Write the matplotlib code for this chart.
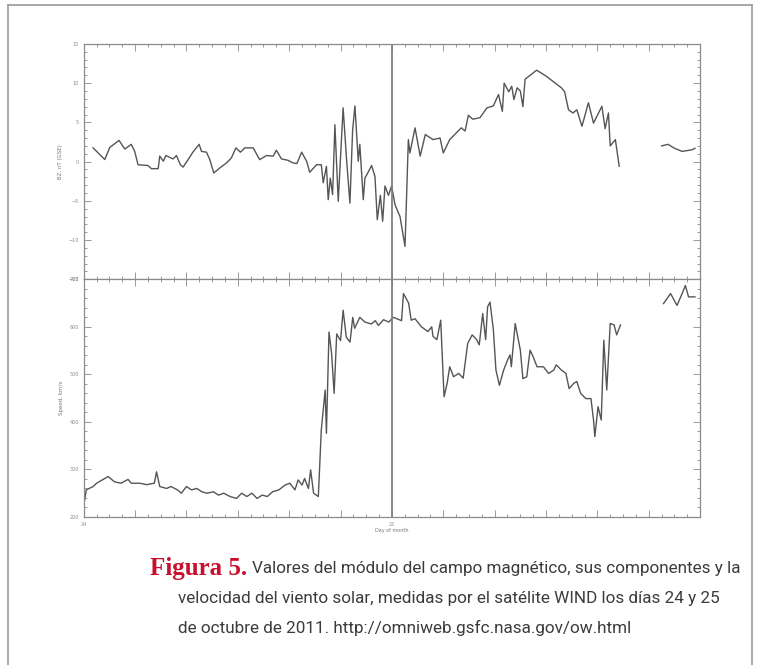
import numpy as np
import matplotlib.pyplot as plt
from matplotlib.lines import Line2D
from matplotlib.ticker import MultipleLocator

# hours after 24 Oct 2011 00:00 UT, Bz in nT (GSE)
bz_hours = [0.73, 1.64, 2.03, 2.75, 3.2, 3.7, 3.97, 4.23, 5.0, 5.27, 5.8, 5.92, 6.2, 6.4,
            6.96, 7.22, 7.53, 7.74, 8.13, 8.5, 8.99, 9.17, 9.56, 9.82, 10.13, 10.6, 11.12,
            11.5, 11.85, 12.2, 12.55, 13.2, 13.7, 14.24, 14.76, 15.0, 15.4, 15.9, 16.3,
            16.6, 16.97, 17.36, 17.6, 18.13, 18.5, 18.65, 18.9, 19.04, 19.2, 19.38, 19.56,
            19.82, 20.2, 20.47, 20.73, 20.94, 21.12, 21.38, 21.5, 21.77, 21.9, 22.1, 22.42,
            22.68, 22.86, 23.1, 23.28, 23.46, 23.73, 23.98, 24.24, 24.63, 25.02, 25.28,
            25.4, 25.8, 26.2, 26.6, 27.2, 27.75, 28.0, 28.5, 29.4, 29.7, 29.95, 30.3, 30.86,
            31.4, 31.9, 32.3, 32.6, 32.74, 33.1, 33.33, 33.5, 33.75, 34.0, 34.2, 34.37,
            35.0, 35.27, 36.0, 37.2, 37.45, 37.75, 38.1, 38.4, 38.8, 39.3, 39.7, 40.35,
            40.6, 40.86, 41.0, 41.4, 41.7, 43.0, 45.0, 45.5, 46.0, 46.6, 47.35, 47.6]
bz_values = [1.75, 0.26, 1.8, 2.7, 1.6, 2.2, 1.3, -0.4, -0.5, -0.9, -0.9, 0.7, 0.05, 0.77,
             0.34, 0.77, -0.4, -0.7, 0.25, 1.2, 2.2, 1.3, 1.2, 0.25, -1.45, -0.8, -0.17,
             0.47, 1.75, 1.2, 1.75, 1.75, 0.25, 0.77, 0.7, 1.45, 0.34, 0.17, -0.17,
             -0.25, 1.2, 0.04, -1.36, -0.4, -0.4, -2.7, -0.6, -4.85, -2.1, -4.2, 4.7,
             -5.06, 6.85, 0.25, -5.3, 4.0, 7.1, 0.04, 2.2, -4.85, -2.1, -1.5, -0.5,
             -1.9, -7.4, -4.3, -7.6, -3.1, -4.3, -3.1, -5.5, -7.0, -10.8, 2.8,
             1.1, 4.3, 0.7, 3.45, 2.8, 3.0, 1.1, 2.8, 4.3, 3.9, 5.9, 5.4, 5.6,
             6.85, 7.1, 8.55, 6.4, 10.0, 8.9, 9.6, 7.9, 9.4, 9.0, 7.0, 10.5,
             11.3, 11.65, 10.9, 9.4, 8.9, 6.6, 6.2, 6.6, 4.5, 7.5, 4.9, 7.05,
             4.2, 6.2, 2.0, 2.8, -0.6, np.nan, 2.0, 2.2, 1.7, 1.3, 1.5, 1.7]

# solar wind speed, km/s
v_hours = [0.08, 0.2, 0.73, 1.0, 1.9, 2.4, 2.9, 3.45, 3.7, 4.35, 4.9, 5.5, 5.67, 5.92,
           6.45, 6.8, 7.3, 7.6, 8.0, 8.4, 8.8, 9.2, 9.6, 10.1, 10.5, 10.9, 11.4, 11.9,
           12.3, 12.7, 13.1, 13.5, 13.9, 14.3, 14.7, 15.2, 15.67, 16.05, 16.45, 16.7,
           17.0, 17.2, 17.5, 17.67, 17.9, 18.27, 18.5, 18.8, 18.9, 19.1, 19.3, 19.5,
           19.7, 20.0, 20.2, 20.45, 20.74, 20.95, 21.1, 21.5, 21.9, 22.4, 22.7, 22.95,
           23.35, 23.75, 24.1, 24.4, 24.75, 24.9, 25.3, 25.5, 25.8, 26.3, 26.8, 27.1,
           27.2, 27.5, 27.8, 28.06, 28.3, 28.5, 28.8, 29.2, 29.55, 29.9, 30.25, 30.6,
           30.8, 31.07, 31.3, 31.45, 31.64, 31.9, 32.1, 32.37, 32.7, 33.0, 33.2, 33.3,
           33.6, 34.0, 34.2, 34.5, 34.76, 35.0, 35.3, 35.8, 36.2, 36.6, 36.8, 37.2,
           37.55, 37.8, 38.15, 38.4, 38.7, 39.1, 39.5, 39.7, 39.8, 40.05, 40.3, 40.5,
           40.73, 41.0, 41.3, 41.5, 41.8, 43.0, 45.15, 45.7, 46.2, 46.6, 46.85, 47.1, 47.6]
v_values = [236, 257, 264, 271, 285, 274, 271, 279, 271, 271, 268, 271, 295, 264,
            260, 264, 257, 250, 264, 257, 260, 253, 250, 253, 246, 250, 243, 239,
            250, 243, 250, 239, 246, 243, 253, 257, 267, 271, 257, 278,
            267, 281, 260, 299, 250, 243, 383, 467, 376, 589, 545, 460,
            585, 571, 635, 578, 568, 620, 597, 620, 610, 606, 613, 603,
            615, 610, 620, 617, 613, 670, 650, 614, 617, 600, 590, 600,
            580, 573, 614, 453, 481, 516, 495, 502, 492, 565, 583, 573,
            562, 628, 573, 642, 652, 594, 509, 477, 509, 530, 541, 516,
            607, 551, 491, 495, 551, 537, 516, 516, 502, 509, 520, 509,
            502, 470, 481, 485, 460, 449, 449, 404, 369, 432, 404, 572,
            467, 607, 604, 583, 604, np.nan, 649, 670, 645, 670, 687, 663, 663]

bz_ticks = [-15, -10, -5, 0, 5, 10, 15]
v_ticks = [200, 300, 400, 500, 600, 700]
day_labels = {0: '24', 24: '25'}

plt.rcParams['font.family'] = ['DejaVu Sans']
fig = plt.figure(figsize=(7.61, 6.65), dpi=100)
ax1 = fig.add_axes([0.110, 0.580, 0.810, 0.354])
ax2 = fig.add_axes([0.110, 0.2226, 0.810, 0.3574], sharex=ax1)

line_col = '#555555'
axis_col = '#8a8a8a'

ax1.plot(bz_hours, bz_values, color=line_col, lw=1.0)
ax2.plot(v_hours, v_values, color=line_col, lw=1.0)

for ax in (ax1, ax2):
    ax.axvline(24, color='#808080', lw=1.3)
    ax.set_xlim(0, 48)
    ax.xaxis.set_major_locator(MultipleLocator(4))
    ax.xaxis.set_minor_locator(MultipleLocator(1))
    ax.tick_params(which='both', direction='in', top=True, right=True,
                   colors=axis_col, labelsize=3.5, labelcolor='#8c8c8c', width=0.6)
    ax.tick_params(which='major', length=5)
    ax.tick_params(which='minor', length=2.5)
    for s in ax.spines.values():
        s.set_color(axis_col)
        s.set_linewidth(0.9)

ax1.set_ylim(-15, 15)
ax1.set_yticks(bz_ticks)
ax1.yaxis.set_minor_locator(MultipleLocator(1))
ax1.tick_params(labelbottom=False)
ax1.set_ylabel('BZ, nT (GSE)', fontsize=4, color='#777777', labelpad=4)

ax2.set_ylim(200, 700)
ax2.set_yticks(v_ticks)
ax2.yaxis.set_minor_locator(MultipleLocator(20))
ax2.set_ylabel('Speed, km/s', fontsize=4, color='#777777', labelpad=4)
ax2.set_xticks(list(range(0, 49, 4)))
ax2.set_xticklabels([day_labels.get(t, '') for t in range(0, 49, 4)])
ax2.set_xlabel('Day of month', fontsize=3.5, color='#777777', labelpad=1)

# outer frame of the figure box
frame_col = '#9a9a9a'
fig.add_artist(Line2D([0.011, 0.011], [0.0, 0.992], color=frame_col, lw=1.2))
fig.add_artist(Line2D([0.988, 0.988], [0.0, 0.992], color=frame_col, lw=1.2))
fig.add_artist(Line2D([0.011, 0.988], [0.992, 0.992], color=frame_col, lw=1.2))

cap_font = ['Roboto', 'DejaVu Sans']
cap_size = 12.3
fig.text(150 / 761, 1 - 568 / 665, 'Figura 5.', color='#c8102e', fontsize=18,
         fontweight='bold', family=['Liberation Serif', 'DejaVu Serif'], va='center')
fig.text(740 / 761, 1 - 568 / 665,
         'Valores del módulo del campo magnético, sus componentes y la',
         color='#3c3c3c', fontsize=cap_size, family=cap_font, va='center', ha='right')
fig.text(178 / 761, 1 - 598 / 665,
         'velocidad del viento solar, medidas por el satélite WIND los días 24 y 25',
         color='#3c3c3c', fontsize=cap_size, family=cap_font, va='center')
fig.text(178 / 761, 1 - 628 / 665,
         'de octubre de 2011. http://omniweb.gsfc.nasa.gov/ow.html',
         color='#3c3c3c', fontsize=cap_size, family=cap_font, va='center')

fig.savefig('out.png', dpi=100)
